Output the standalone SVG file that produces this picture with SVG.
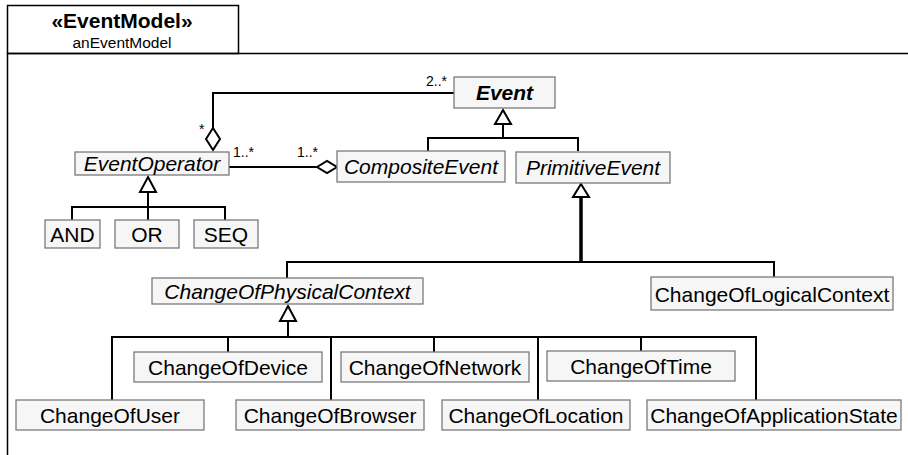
<svg xmlns="http://www.w3.org/2000/svg" width="908" height="455" viewBox="0 0 908 455">
  <style>
    .frame { fill: none; stroke: #000; stroke-width: 1.5; }
    .cls rect { fill: #f6f6f6; stroke: #7a7a7a; stroke-width: 1.3; }
    .cls text { font-family: "Liberation Sans", Arial, sans-serif; font-size: 21px; fill: #000; text-anchor: middle; }
    .cls text.abs { font-style: italic; }
    .cls text.absb { font-style: italic; font-weight: bold; }
    .wire { fill: none; stroke: #000; stroke-width: 2; }
    .thick { stroke-width: 3.5; }
    .head { fill: #fff; stroke: #000; stroke-width: 2; stroke-linejoin: miter; }
    .mult { font-family: "Liberation Sans", Arial, sans-serif; font-size: 14px; fill: #000; }
    .title { font-family: "Liberation Sans", Arial, sans-serif; fill: #000; text-anchor: middle; }
  </style>

  <!-- package frame with name tab -->
  <g id="frame">
    <path class="frame" d="M7.5 455 V53.5 H908"/>
    <rect class="frame" x="7.5" y="5.5" width="231" height="48"/>
    <text class="title" x="122" y="28" font-size="21" font-weight="bold">«EventModel»</text>
    <text class="title" x="122" y="48" font-size="15.5">anEventModel</text>
  </g>

  <!-- connectors -->
  <g id="connectors">
    <!-- aggregation EventOperator -> Event -->
    <path class="wire" d="M454 93 H213 V128"/>
    <polygon class="head" points="213,128 220,139 213,150 206,139"/>
    <!-- aggregation EventOperator -> CompositeEvent -->
    <path class="wire" d="M229 167 H317"/>
    <polygon class="head" points="317,167 327,161 337,167 327,173"/>

    <!-- generalization to Event -->
    <path class="wire" d="M503 124 V138 M428 151 V138 H578 V151"/>
    <polygon class="head" points="503,110 511,124 495,124"/>

    <!-- generalization to EventOperator -->
    <path class="wire" d="M148 192 V220 M72 220 V207 H225 V220"/>
    <polygon class="head" points="148,177 156,192 140,192"/>

    <!-- generalization to PrimitiveEvent -->
    <path class="wire thick" d="M581 197 V262"/>
    <path class="wire" d="M287 278 V262 H774 V277"/>
    <polygon class="head" points="581,184 589,197 573,197"/>

    <!-- generalization to ChangeOfPhysicalContext -->
    <path class="wire" d="M288 321 V337 M112 400 V337 H756 V400 M228 337 V352 M331 337 V400 M434 337 V352 M538 337 V400 M641 337 V351"/>
    <polygon class="head" points="288,306 296,321 280,321"/>

    <!-- multiplicities -->
    <text class="mult" x="426" y="86">2..*</text>
    <text class="mult" x="199" y="134">*</text>
    <text class="mult" x="233" y="157">1..*</text>
    <text class="mult" x="297" y="157">1..*</text>
  </g>

  <g id="Event" class="cls">
    <rect x="454" y="77" width="101" height="31"/>
    <text class="absb" x="504.5" y="100">Event</text>
  </g>
  <g id="EventOperator" class="cls">
    <rect x="75" y="152" width="154" height="23"/>
    <text class="abs" x="152" y="171">EventOperator</text>
  </g>
  <g id="CompositeEvent" class="cls">
    <rect x="337" y="151" width="168" height="31"/>
    <text class="abs" x="421" y="174">CompositeEvent</text>
  </g>
  <g id="PrimitiveEvent" class="cls">
    <rect x="516" y="152" width="154" height="31"/>
    <text class="abs" x="593" y="175">PrimitiveEvent</text>
  </g>
  <g id="AND" class="cls">
    <rect x="45" y="220" width="55" height="28"/>
    <text x="72.5" y="241.5">AND</text>
  </g>
  <g id="OR" class="cls">
    <rect x="115" y="220" width="64" height="28"/>
    <text x="147" y="241.5">OR</text>
  </g>
  <g id="SEQ" class="cls">
    <rect x="194" y="220" width="64" height="28"/>
    <text x="226" y="241.5">SEQ</text>
  </g>
  <g id="ChangeOfPhysicalContext" class="cls">
    <rect x="152" y="278" width="271" height="26"/>
    <text class="abs" x="287.5" y="298.5">ChangeOfPhysicalContext</text>
  </g>
  <g id="ChangeOfLogicalContext" class="cls">
    <rect x="651" y="277" width="242" height="33"/>
    <text x="772" y="301.5">ChangeOfLogicalContext</text>
  </g>
  <g id="ChangeOfDevice" class="cls">
    <rect x="134" y="352" width="188" height="30"/>
    <text x="228" y="374.5">ChangeOfDevice</text>
  </g>
  <g id="ChangeOfNetwork" class="cls">
    <rect x="341" y="352" width="188" height="30"/>
    <text x="435" y="374.5">ChangeOfNetwork</text>
  </g>
  <g id="ChangeOfTime" class="cls">
    <rect x="547" y="351" width="188" height="30"/>
    <text x="641" y="373.5">ChangeOfTime</text>
  </g>
  <g id="ChangeOfUser" class="cls">
    <rect x="16" y="400" width="188" height="30"/>
    <text x="110" y="422.5">ChangeOfUser</text>
  </g>
  <g id="ChangeOfBrowser" class="cls">
    <rect x="236" y="400" width="188" height="30"/>
    <text x="330" y="422.5">ChangeOfBrowser</text>
  </g>
  <g id="ChangeOfLocation" class="cls">
    <rect x="442" y="400" width="188" height="30"/>
    <text x="536" y="422.5">ChangeOfLocation</text>
  </g>
  <g id="ChangeOfApplicationState" class="cls">
    <rect x="647" y="400" width="254" height="30"/>
    <text x="774" y="422.5">ChangeOfApplicationState</text>
  </g>
</svg>
